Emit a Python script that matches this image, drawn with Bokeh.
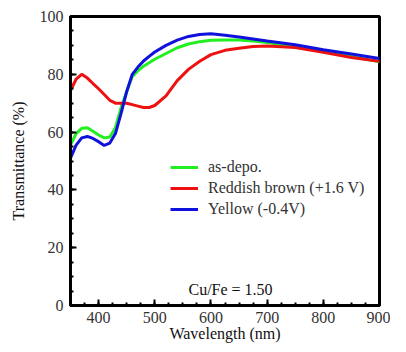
from bokeh.plotting import figure
from bokeh.models import Range1d, Legend, LegendItem, Label, FixedTicker, ColumnDataSource
from bokeh.embed import file_html
from bokeh.resources import INLINE

wavelength = [350, 360, 370, 380, 390, 400, 410, 420, 430, 440, 450, 460, 470, 480, 490, 500,
              520, 540, 560, 580, 600, 625, 650, 675, 700, 750, 800, 850, 900]
as_depo = [55.5, 59.5, 61.3, 61.5, 60.3, 59.0, 58.0, 58.3, 61.5, 68.5, 74.0, 79.3, 81.2, 82.8, 84.0, 85.2,
           87.2, 89.2, 90.5, 91.3, 91.8, 91.9, 91.9, 91.5, 91.0, 89.6, 87.8, 86.2, 84.3]
reddish = [74.4, 78.3, 80.0, 78.7, 76.8, 75.0, 73.0, 71.0, 70.0, 70.0, 70.0, 69.5, 69.0, 68.5, 68.5, 69.2,
           72.5, 77.8, 81.7, 84.5, 86.8, 88.3, 89.0, 89.6, 89.8, 89.3, 87.6, 85.8, 84.5]
yellow = [51.0, 55.5, 58.0, 58.5, 57.8, 56.7, 55.4, 56.2, 59.5, 66.5, 74.0, 80.0, 82.5, 84.6, 86.2, 87.7,
          90.0, 91.8, 93.1, 93.8, 94.0, 93.5, 92.9, 92.2, 91.5, 90.2, 88.5, 87.0, 85.5]

series_names = ["as-depo.", "Reddish brown (+1.6 V)", "Yellow (-0.4V)"]
series_colors = ["#22ee22", "#ee1111", "#1111dd"]
x_ticks = [400, 500, 600, 700, 800, 900]
y_ticks = [0, 20, 40, 60, 80, 100]

FONT = "'Liberation Serif', 'Times New Roman', serif"
TXT = "#333333"

p = figure(width=390, height=344, output_backend="svg", toolbar_location=None,
           x_range=Range1d(350, 900), y_range=Range1d(0, 100),
           min_border_left=70, min_border_right=11, min_border_top=16, min_border_bottom=38)
p.background_fill_color = "white"
p.border_fill_color = "white"
p.grid.visible = False
p.outline_line_color = "black"
p.outline_line_width = 3

for ax in (p.xaxis[0], p.yaxis[0]):
    ax.axis_line_width = 3
    ax.major_tick_in = 6
    ax.major_tick_out = 0
    ax.minor_tick_in = 3
    ax.minor_tick_out = 0
    ax.major_tick_line_width = 2
    ax.minor_tick_line_width = 2
    ax.major_label_text_font = FONT
    ax.major_label_text_font_size = "16px"
    ax.major_label_text_color = TXT
    ax.axis_label_text_font = FONT
    ax.axis_label_text_font_size = "16px"
    ax.axis_label_text_font_style = "normal"
    ax.axis_label_text_color = "#111111"

p.xaxis.ticker = FixedTicker(ticks=x_ticks, minor_ticks=list(range(350, 901, 25)))
p.yaxis.ticker = FixedTicker(ticks=y_ticks, minor_ticks=list(range(0, 101, 5)))
p.xaxis.axis_label = "Wavelength (nm)"
p.yaxis.axis_label = "Transmittance (%)"
p.xaxis.major_label_standoff = 6
p.yaxis.major_label_standoff = 7
p.xaxis.axis_label_standoff = -1
p.yaxis.axis_label_standoff = 10

src = ColumnDataSource(dict(x=wavelength, g=as_depo, r=reddish, b=yellow))
renderers = []
for col, color in zip(["g", "r", "b"], series_colors):
    renderers.append(p.line("x", col, source=src, line_color=color, line_width=3))

legend = Legend(items=[LegendItem(label=n, renderers=[r]) for n, r in zip(series_names, renderers)],
                location=(100, 86), border_line_color=None, background_fill_alpha=0,
                label_text_font=FONT, label_text_font_size="16px", label_text_color=TXT,
                glyph_width=28, glyph_height=20, label_height=20, label_standoff=10,
                spacing=1, padding=0, margin=0)
p.add_layout(legend, "center")

p.add_layout(Label(x=560, y=2.5, text="Cu/Fe = 1.50", text_font=FONT, text_font_size="16px",
                   text_color="#111111", text_baseline="bottom", text_align="left"))

open("out.html", "w").write(file_html(p, INLINE))
